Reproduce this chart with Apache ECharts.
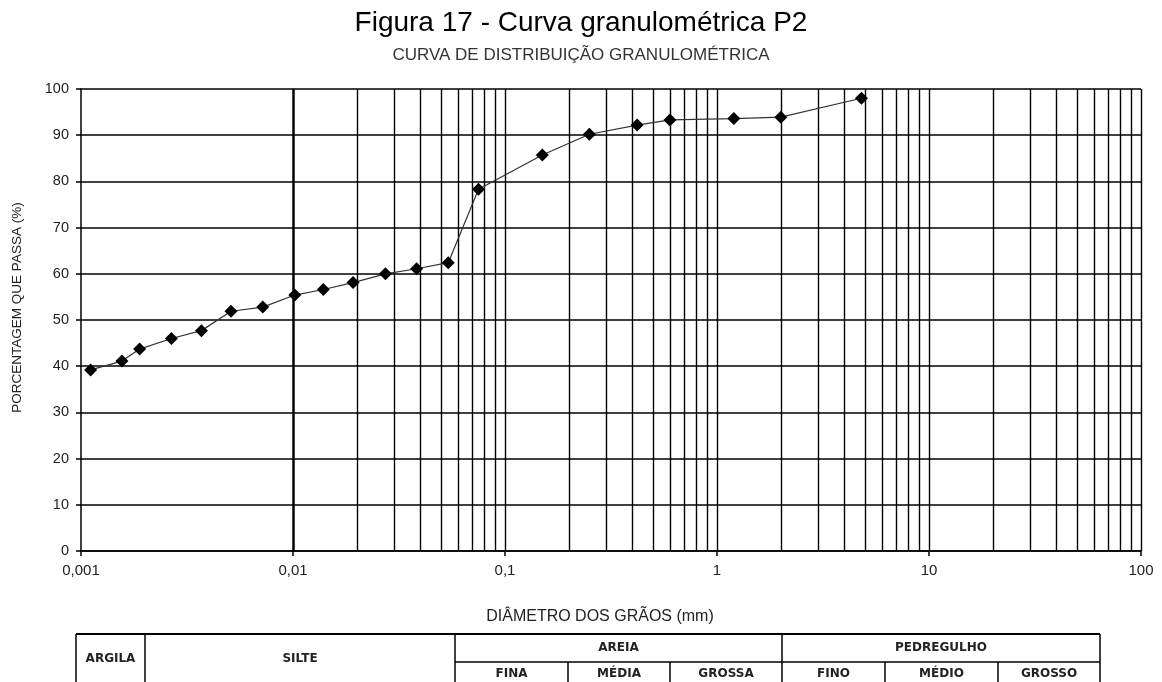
<!DOCTYPE html>
<html>
<head>
<meta charset="utf-8">
<script src="https://cdn.jsdelivr.net/npm/echarts@6/dist/echarts.min.js"></script>
<style>
html,body{margin:0;padding:0;background:#fff;}
#chart{width:1162px;height:682px;}
</style>
</head>
<body>
<div id="chart"></div>
<script>
// ---- data ----
const diameters = [0.00111, 0.00156, 0.00189, 0.00267, 0.0037, 0.0051, 0.0072, 0.0102, 0.0139, 0.0192, 0.0273, 0.0383, 0.054, 0.075, 0.15, 0.25, 0.42, 0.6, 1.2, 2.0, 4.8];
const passing   = [39.2, 41.1, 43.7, 46.0, 47.7, 51.9, 52.8, 55.4, 56.6, 58.1, 60.0, 61.1, 62.4, 78.3, 85.7, 90.2, 92.2, 93.3, 93.6, 93.9, 98.0];
const decades = [0.001, 0.01, 0.1, 1, 10];
const gridMultipliers = [1, 2, 3, 4, 5, 6, 7, 8, 9];
const titleText = 'Figura 17 - Curva granulométrica P2';
const subtitleText = 'CURVA DE DISTRIBUIÇÃO GRANULOMÉTRICA';
const xName = 'DIÂMETRO DOS GRÃOS (mm)';
const yName = 'PORCENTAGEM QUE PASSA (%)';
const tableTop = ['ARGILA', 'SILTE', 'AREIA', 'PEDREGULHO'];
const tableSub = ['FINA', 'MÉDIA', 'GROSSA', 'FINO', 'MÉDIO', 'GROSSO'];

const points = diameters.map((d, i) => [d, passing[i]]);
const vLines = [];
decades.forEach(d => gridMultipliers.forEach(m => vLines.push({ xAxis: +(d * m).toPrecision(6) })));
vLines.push({ xAxis: 100 });

// ---- table graphic (layout) ----
const tTop = 634, tMid = 662, tBot = 692;
const colX = { left: 76, argSil: 145, silAre: 455, fm: 568, mg: 670, arePed: 782, fimed: 885, medgr: 998, right: 1100 };
function ln(x1, y1, x2, y2, w) {
  return { type: 'line', shape: { x1, y1, x2, y2 }, style: { stroke: '#000', lineWidth: w || 1.5 }, silent: true };
}
function tx(text, x, y) {
  return { type: 'text', x, y, style: { text, fill: '#222', font: 'bold 12px "DejaVu Sans"', align: 'center', verticalAlign: 'middle' }, silent: true };
}
const graphics = [
  ln(colX.left, tTop, colX.right, tTop, 2.2),
  ln(colX.silAre, tMid, colX.right, tMid),
  ln(colX.left, tTop, colX.left, tBot),
  ln(colX.argSil, tTop, colX.argSil, tBot),
  ln(colX.silAre, tTop, colX.silAre, tBot),
  ln(colX.arePed, tTop, colX.arePed, tBot),
  ln(colX.right, tTop, colX.right, tBot),
  ln(colX.fm, tMid, colX.fm, tBot),
  ln(colX.mg, tMid, colX.mg, tBot),
  ln(colX.fimed, tMid, colX.fimed, tBot),
  ln(colX.medgr, tMid, colX.medgr, tBot),
  tx(tableTop[0], (colX.left + colX.argSil) / 2, 659),
  tx(tableTop[1], (colX.argSil + colX.silAre) / 2, 659),
  tx(tableTop[2], (colX.silAre + colX.arePed) / 2, 648),
  tx(tableTop[3], (colX.arePed + colX.right) / 2, 648),
  tx(tableSub[0], (colX.silAre + colX.fm) / 2, 674),
  tx(tableSub[1], (colX.fm + colX.mg) / 2, 674),
  tx(tableSub[2], (colX.mg + colX.arePed) / 2, 674),
  tx(tableSub[3], (colX.arePed + colX.fimed) / 2, 674),
  tx(tableSub[4], (colX.fimed + colX.medgr) / 2, 674),
  tx(tableSub[5], (colX.medgr + colX.right) / 2, 674)
];

const chart = echarts.init(document.getElementById('chart'), null, { renderer: 'canvas' });
chart.setOption({
  animation: false,
  backgroundColor: '#fff',
  title: [
    { text: titleText, left: 'center', top: 4, textStyle: { fontFamily: 'Liberation Sans', fontSize: 28, fontWeight: 'normal', color: '#000' } },
    { text: subtitleText, left: 'center', top: 42, textStyle: { fontFamily: 'Liberation Sans', fontSize: 17, fontWeight: 'normal', color: '#333' } }
  ],
  grid: { left: 81, right: 21, top: 89, bottom: 131, containLabel: false },
  xAxis: {
    type: 'log', logBase: 10, min: 0.001, max: 100,
    name: xName, nameLocation: 'middle', nameGap: 58,
    nameTextStyle: { fontFamily: 'Liberation Sans', fontSize: 16, color: '#222', padding: [0, 22, 0, 0] },
    axisLine: { show: true, lineStyle: { color: '#000', width: 1.5 } },
    axisTick: { show: true, length: 5, lineStyle: { color: '#000', width: 1.5 } },
    axisLabel: {
      margin: 12, fontFamily: 'Liberation Sans', fontSize: 15, color: '#222',
      formatter: v => String(+(+v).toPrecision(6)).replace('.', ',')
    },
    splitLine: { show: false },
    minorTick: { show: false }, minorSplitLine: { show: false }
  },
  yAxis: {
    type: 'value', min: 0, max: 100, interval: 10,
    name: yName, nameLocation: 'middle', nameGap: 57, nameRotate: 90,
    nameTextStyle: { fontFamily: 'Liberation Sans', fontSize: 13.5, color: '#222', padding: [0, 0, 0, 25] },
    axisLine: { show: true, lineStyle: { color: '#000', width: 1.5 } },
    axisTick: { show: true, length: 5, lineStyle: { color: '#000', width: 1.5 } },
    axisLabel: { margin: 12, fontFamily: 'Liberation Sans', fontSize: 14.5, color: '#222' },
    splitLine: { show: true, lineStyle: { color: '#000', width: 1.5 } }
  },
  series: [
    {
      name: 'grid-vertical', type: 'line', data: [], z: 1, silent: true,
      markLine: {
        silent: true, symbol: ['none', 'none'], animation: false,
        label: { show: false },
        lineStyle: { color: '#000', width: 1.4, type: 'solid' },
        emphasis: { disabled: true },
        data: vLines
      }
    },
    {
      name: 'P2', type: 'line', data: points, z: 5,
      symbol: 'diamond', symbolSize: 13,
      itemStyle: { color: '#000' },
      lineStyle: { color: '#333', width: 1.2 }
    }
  ],
  graphic: graphics
});
</script>
</body>
</html>
